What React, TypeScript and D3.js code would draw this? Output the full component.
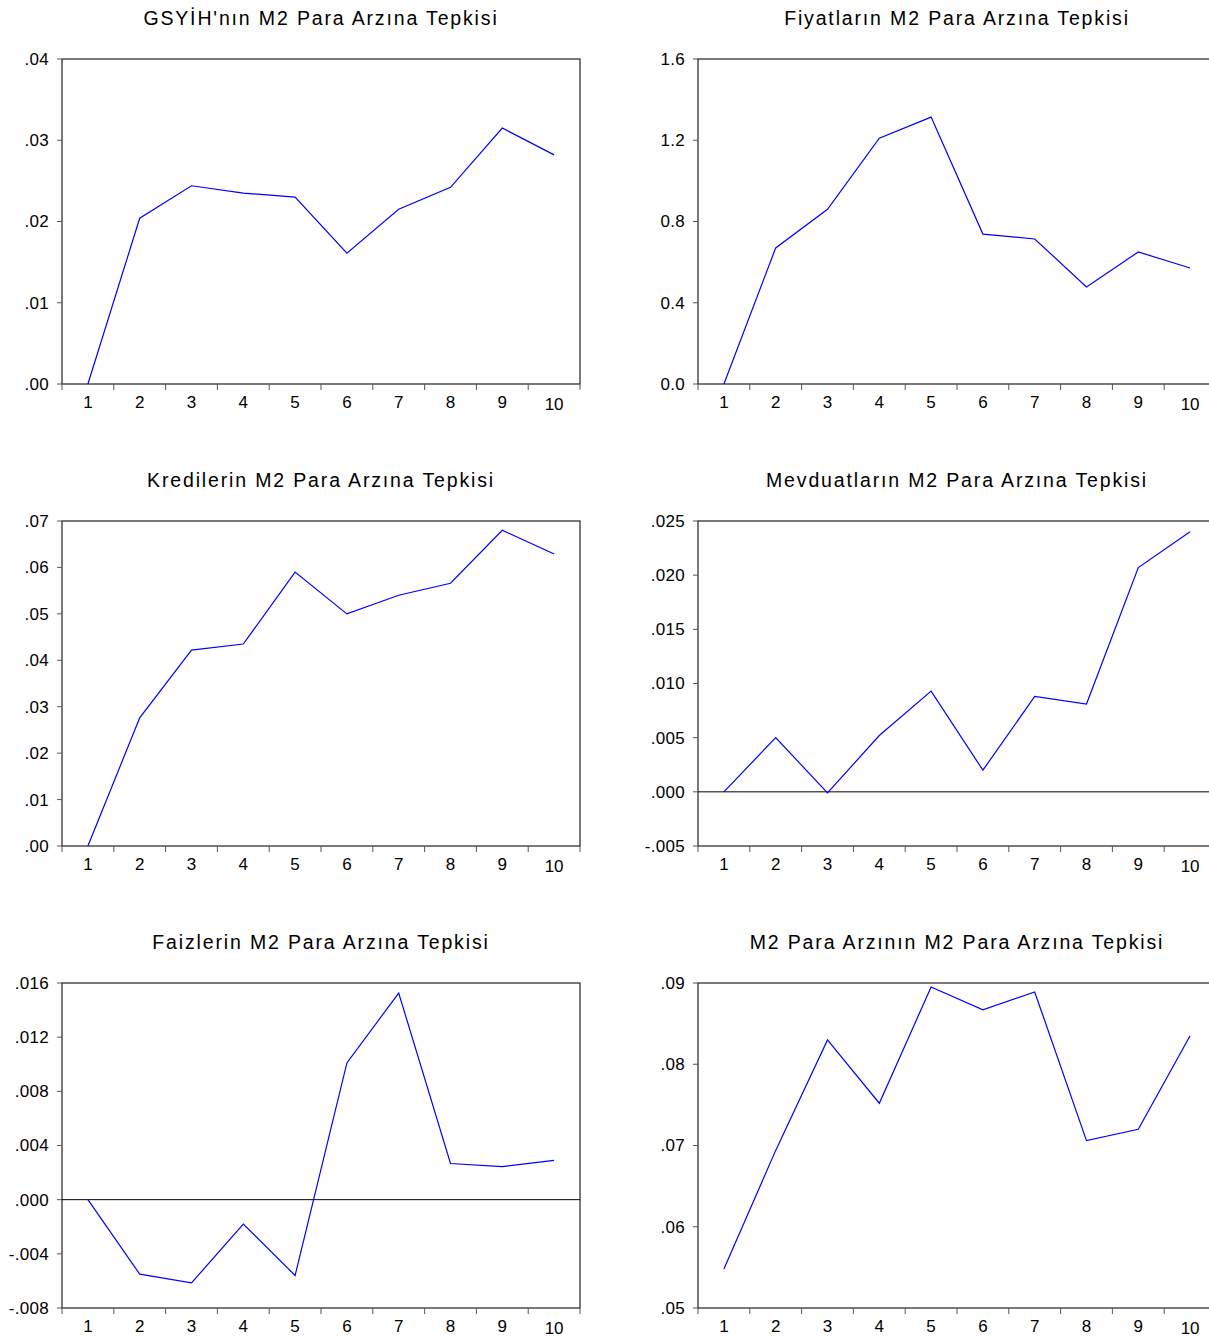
import React from "react";
import * as d3 from "d3";

// periods 1..10
const periods = [1, 2, 3, 4, 5, 6, 7, 8, 9, 10];

// impulse responses
const gsyihValues = [0, 0.0204, 0.0244, 0.0235, 0.023, 0.0161, 0.0215, 0.0242, 0.0315, 0.0282];
const fiyatValues = [0, 0.67, 0.86, 1.21, 1.314, 0.738, 0.714, 0.478, 0.65, 0.571];
const krediValues = [0, 0.0276, 0.0422, 0.0435, 0.059, 0.05, 0.054, 0.0566, 0.068, 0.0629];
const mevduatValues = [0, 0.005, -0.0001, 0.0052, 0.0093, 0.002, 0.0088, 0.0081, 0.0207, 0.024];
const faizValues = [0, -0.0055, -0.00615, -0.0018, -0.0056, 0.0101, 0.01526, 0.00267, 0.00244, 0.0029];
const m2Values = [0.0548, 0.0694, 0.083, 0.0752, 0.0895, 0.0867, 0.0889, 0.0706, 0.072, 0.0835];

const gsyihTicks = ["0", "0.01", "0.02", "0.03", "0.04"];
const fiyatTicks = ["0.0", "0.4", "0.8", "1.2", "1.6"];
const krediTicks = ["0", "0.01", "0.02", "0.03", "0.04", "0.05", "0.06", "0.07"];
const mevduatTicks = ["-0.005", "0.000", "0.005", "0.010", "0.015", "0.020", "0.025"];
const faizTicks = ["-0.008", "-0.004", "0.000", "0.004", "0.008", "0.012", "0.016"];
const m2Ticks = ["0.05", "0.06", "0.07", "0.08", "0.09"];

const panels = [
  { title: "GSYİH'nın M2 Para Arzına Tepkisi", values: gsyihValues, ticks: gsyihTicks, zeroLine: false },
  { title: "Fiyatların M2 Para Arzına Tepkisi", values: fiyatValues, ticks: fiyatTicks, zeroLine: false },
  { title: "Kredilerin M2 Para Arzına Tepkisi", values: krediValues, ticks: krediTicks, zeroLine: false },
  { title: "Mevduatların M2 Para Arzına Tepkisi", values: mevduatValues, ticks: mevduatTicks, zeroLine: true },
  { title: "Faizlerin M2 Para Arzına Tepkisi", values: faizValues, ticks: faizTicks, zeroLine: true },
  { title: "M2 Para Arzının M2 Para Arzına Tepkisi", values: m2Values, ticks: m2Ticks, zeroLine: false },
];

const FONT = "Arial, 'Liberation Sans', sans-serif";
const W = 518;
const H = 325;
const colX = [62, 698];
const rowY = [59, 521, 983];

// EViews style: drop the leading zero (0.04 -> .04, -0.005 -> -.005)
const fmt = (s: string) => {
  if (s === "0") return ".00";
  if (/^0\.\d$/.test(s)) return s;
  if (s.startsWith("0.")) return s.slice(1);
  if (s.startsWith("-0.")) return "-" + s.slice(2);
  return s;
};

function Panel({ p, x0, y0 }) {
  const tickVals = p.ticks.map(Number);
  const x = d3.scaleBand<number>().domain(periods).range([0, W]);
  const y = d3.scaleLinear().domain([tickVals[0], tickVals[tickVals.length - 1]]).range([H, 0]);
  const line = d3
    .line<number>()
    .x((_, i) => x(periods[i])! + x.bandwidth() / 2)
    .y((d) => y(d));
  const edges = periods.map((d) => x(d)!).concat([W]);

  return (
    <g transform={`translate(${x0},${y0})`}>
      <text
        x={W / 2}
        y={-34}
        textAnchor="middle"
        fontFamily={FONT}
        fontSize={19.5}
        letterSpacing={1.85}
        fill="#000"
      >
        {p.title}
      </text>
      <rect x={0} y={0} width={W} height={H} fill="none" stroke="#222" strokeWidth={1.2} />
      {p.zeroLine && <line x1={0} x2={W} y1={y(0)} y2={y(0)} stroke="#000" strokeWidth={1} />}
      {p.ticks.map((t, i) => (
        <g key={t} transform={`translate(0,${y(tickVals[i])})`}>
          <line x1={-5} x2={0} stroke="#555" />
          <text x={-13} dy="0.35em" textAnchor="end" fontFamily={FONT} fontSize={17} letterSpacing={0.3} fill="#000">
            {fmt(t)}
          </text>
        </g>
      ))}
      {edges.map((e, i) => (
        <line key={i} x1={e} x2={e} y1={H} y2={H + 6} stroke="#555" />
      ))}
      {periods.map((d) => (
        <text
          key={d}
          x={x(d)! + x.bandwidth() / 2}
          y={H + (d === 10 ? 25.5 : 24)}
          textAnchor="middle"
          fontFamily={FONT}
          fontSize={17}
          fill="#000"
        >
          {d}
        </text>
      ))}
      <path d={line(p.values)!} fill="none" stroke="#0000ff" strokeWidth={1.2} />
    </g>
  );
}

export default function App() {
  return (
    <svg
      width={1209}
      height={1336}
      style={{ position: "absolute", left: 0, top: 0, background: "#fff" }}
    >
      {panels.map((p, i) => (
        <Panel key={p.title} p={p} x0={colX[i % 2]} y0={rowY[Math.floor(i / 2)]} />
      ))}
    </svg>
  );
}
